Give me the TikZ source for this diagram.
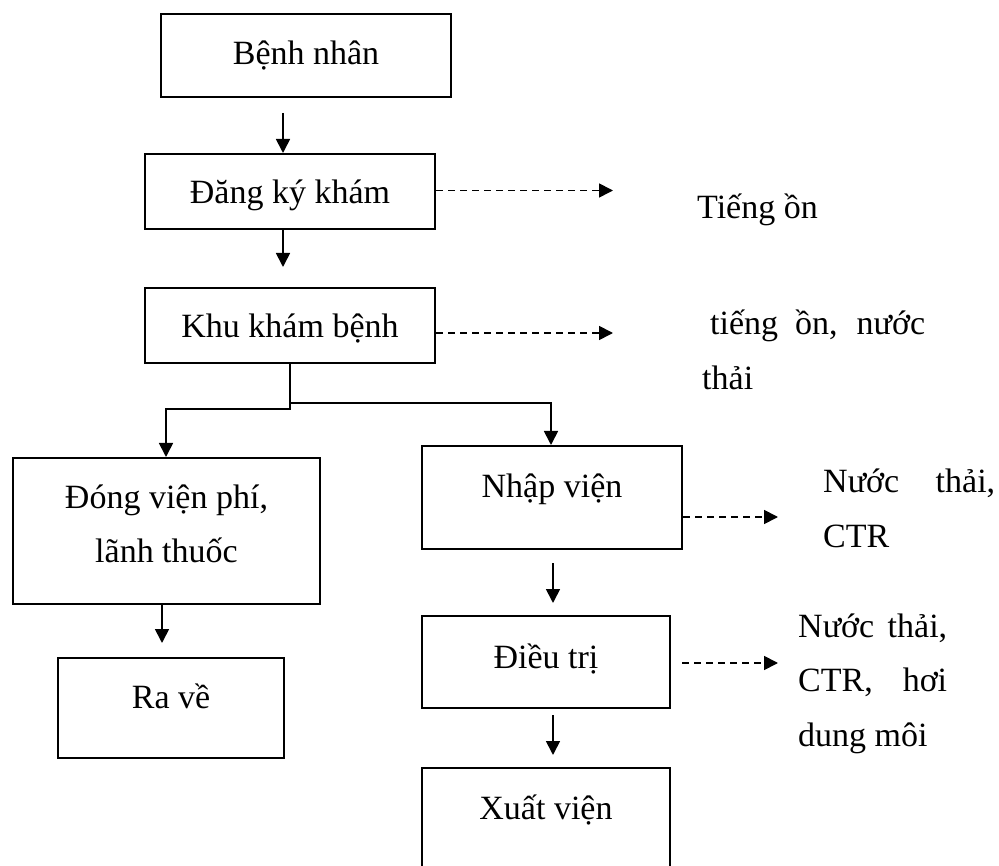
\documentclass[tikz,border=0pt]{standalone}
\usepackage{fontspec}
\setmainfont{Liberation Serif}
\usetikzlibrary{arrows.meta}
\newcommand{\mainfs}{\fontsize{34}{54.5}\selectfont}
\tikzset{
  box/.style={draw, line width=2pt, inner sep=0pt, anchor=north west, font=\mainfs},
  txt/.style={inner sep=0pt, anchor=base west, font=\mainfs},
  arr/.style={-{Triangle[length=14pt,width=14pt]}, line width=1.7pt},
  dsh/.style={arr, dash pattern=on 7pt off 5pt},
}
\begin{document}
\begin{tikzpicture}[x=1pt,y=-1pt]
\useasboundingbox (0,0) rectangle (999,866);
\clip (0,0) rectangle (999,866);
% boxes
\node[box, minimum width=290pt, text height=51pt, text depth=32pt] (b1) at (160,13) {Bệnh nhân};
\node[box, minimum width=290pt, text height=50pt, text depth=25pt] (b2) at (144,153) {Đăng ký khám};
\node[box, minimum width=290pt, text height=50pt, text depth=25pt] (b3) at (144,287) {Khu khám bệnh};
\node[box, minimum width=307pt, text height=50pt, text depth=96pt] (b4) at (12,457) {\begin{tabular}[t]{@{}c@{}}Đóng viện phí,\\lãnh thuốc\end{tabular}};
\node[box, minimum width=226pt, text height=50pt, text depth=50pt] (b5) at (57,657) {Ra về};
\node[box, minimum width=260pt, text height=51pt, text depth=52pt] (b6) at (421,445) {Nhập viện};
\node[box, minimum width=248pt, text height=52pt, text depth=40pt] (b7) at (421,615) {Điều trị};
\node[box, minimum width=248pt, text height=51pt, text depth=130pt] (b8) at (421,767) {Xuất viện};
% side texts
\node[txt] (t1) at (697,219) {Tiếng ồn};
\node[txt] (t2) at (702,335) {\begin{tabular}[t]{@{}l@{}}\hspace*{8pt}\makebox[215pt][s]{tiếng ồn, nước}\\thải\end{tabular}};
\node[txt] (t3) at (823,493) {\begin{tabular}[t]{@{}l@{}}\makebox[172pt][s]{Nước thải,}\\CTR\end{tabular}};
\node[txt] (t4) at (798,637) {\begin{tabular}[t]{@{}l@{}}\makebox[149pt][s]{Nước thải,}\\\makebox[149pt][s]{CTR, hơi}\\dung môi\end{tabular}};
% coordinates for free ends
\coordinate (a1s) at (283,113);
\coordinate (a2e) at (283,267);
\coordinate (jL) at (166,409);
\coordinate (jR) at (551,403);
\coordinate (a3s) at (162,603);
\coordinate (a3e) at (162,643);
\coordinate (a4s) at (553,563);
\coordinate (a4e) at (553,603);
\coordinate (a5s) at (553,715);
\coordinate (a5e) at (553,755);
\coordinate (d1e) at (613,190.5);
\coordinate (d2e) at (613,333);
\coordinate (d3e) at (778,517);
\coordinate (d4s) at (682,663);
\coordinate (d4e) at (778,663);
% solid connectors
\draw[arr] (a1s) -- (a1s |- b2.north);
\draw[arr] (a2e |- b2.south) -- (a2e);
\draw[arr] (b3.south) -- (b3.south |- jL) -- (jL) -- (jL |- b4.north);
\draw[arr] (b3.south |- jR) -- (jR) -- (jR |- b6.north);
\draw[arr] (a3s |- b4.south) -- (a3e);
\draw[arr] (a4s) -- (a4e);
\draw[arr] (a5s) -- (a5e);
% dashed connectors
\draw[dsh] (b2.east |- d1e) -- (d1e);
\draw[dsh] (b3.east |- d2e) -- (d2e);
\draw[dsh] (b6.east |- d3e) -- (d3e);
\draw[dsh] (d4s) -- (d4e);
\end{tikzpicture}
\end{document}
